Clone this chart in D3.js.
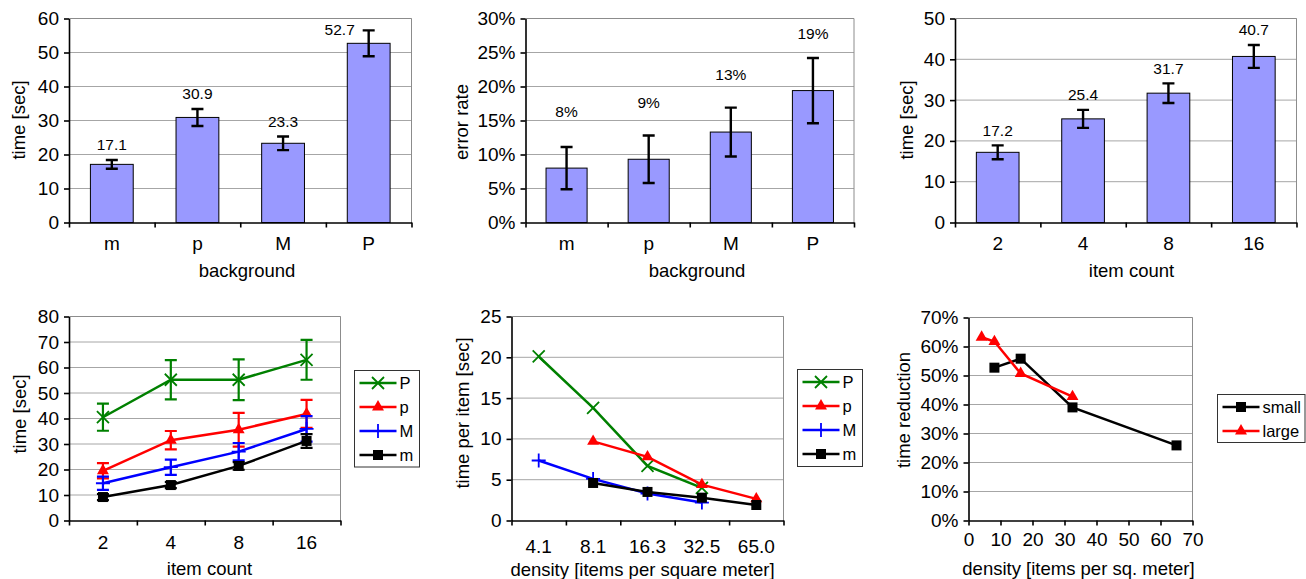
<!DOCTYPE html>
<html>
<head>
<meta charset="utf-8">
<script src="https://cdn.jsdelivr.net/npm/d3@7"></script>
<style>
body { margin: 0; background: #fff; }
</style>
</head>
<body>
<svg id="vis" width="1306" height="579"></svg>
<script>
// ---- data ----
var bgCats = ["m", "p", "M", "P"];
var bgTime = [17.1, 30.9, 23.3, 52.7];
var bgTimeErr = [1.3, 2.5, 2.0, 3.8];
var bgErrRate = [0.080, 0.093, 0.133, 0.194];
var bgErrRateErr = [0.031, 0.035, 0.036, 0.048];

var countCats = ["2", "4", "8", "16"];
var countTime = [17.2, 25.4, 31.7, 40.7];
var countTimeErr = [1.7, 2.2, 2.4, 2.8];

var seriesNames = ["P", "p", "M", "m"];
var countP = [40.5, 55.2, 55.2, 63.0];
var countPErr = [5.3, 7.7, 8.0, 7.8];
var countp = [19.5, 31.5, 35.6, 41.8];
var countpErr = [3.0, 3.6, 6.6, 5.5];
var countM = [14.6, 20.9, 27.0, 35.9];
var countMErr = [2.6, 3.0, 3.4, 5.0];
var countm = [9.2, 13.9, 21.4, 31.2];
var countmErr = [1.2, 1.2, 1.5, 2.7];

var densityCats = ["4.1", "8.1", "16.3", "32.5", "65.0"];
var perItemP = [20.1, 13.8, 6.7, 4.0, null];
var perItemp = [null, 9.7, 7.8, 4.4, 2.65];
var perItemM = [7.35, 5.1, 3.3, 2.2, null];
var perItemm = [null, 4.6, 3.5, 2.8, 1.9];

var densityVals = [4.1, 8.1, 16.3, 32.5, 65.0];
var sizeNames = ["small", "large"];
var reductionSmall = [null, 0.527, 0.558, 0.390, 0.259];
var reductionLarge = [0.632, 0.617, 0.507, 0.427, null];

// ---- styling ----
var FONT = "'Liberation Sans', Arial, sans-serif";
var GRID = "#a6a6a6", FRAME = "#8c8c8c", BAR = "#9999ff";
var TICK_FS = 19, TITLE_FS = 18.5;
var seriesStyle = {
    P: { color: "#008000", marker: "x" },
    p: { color: "#ff0000", marker: "tri" },
    M: { color: "#0000ff", marker: "plus" },
    m: { color: "#000000", marker: "square" },
    small: { color: "#000000", marker: "square" },
    large: { color: "#ff0000", marker: "tri" }
};

var svg = d3.select("#vis");

function styleAxis(ax) {
    ax.attr("font-family", FONT).attr("font-size", TICK_FS);
    ax.select(".domain").attr("stroke", "#000").attr("stroke-width", 1.6);
    ax.selectAll(".tick line").attr("stroke", "#000").attr("stroke-width", 1.6);
    ax.selectAll(".tick text").attr("fill", "#000");
}

function frame(g, b, y, ticks, fmt) {
    g.selectAll("line.grid").data(ticks.filter(function (t) { return t > 0; }))
        .join("line").attr("class", "grid")
        .attr("x1", b.l).attr("x2", b.r)
        .attr("y1", function (d) { return y(d); })
        .attr("y2", function (d) { return y(d); })
        .attr("stroke", GRID).attr("stroke-width", 1);
    g.append("path")
        .attr("d", "M" + b.l + "," + b.t + "H" + b.r + "V" + b.b)
        .attr("fill", "none").attr("stroke", FRAME).attr("stroke-width", 1);
    var ax = g.append("g")
        .attr("transform", "translate(" + b.l + ",0)")
        .call(d3.axisLeft(y).tickValues(ticks).tickFormat(fmt)
            .tickSize(5).tickPadding(5).tickSizeOuter(0));
    styleAxis(ax);
}

function catAxis(g, b, cats, pad) {
    var lin = d3.scaleLinear().domain([0, cats.length]).range([b.l, b.r]);
    var ax = g.append("g")
        .attr("transform", "translate(0," + b.b + ")")
        .call(d3.axisBottom(lin).tickValues(d3.range(cats.length + 1))
            .tickFormat("").tickSize(5).tickSizeOuter(0));
    styleAxis(ax);
    var band = d3.scaleBand().domain(cats).range([b.l, b.r]);
    var ax2 = g.append("g")
        .attr("transform", "translate(0," + b.b + ")")
        .call(d3.axisBottom(band).tickSize(0).tickPadding(pad));
    ax2.select(".domain").remove();
    styleAxis(ax2);
    return band;
}

function titles(g, b) {
    g.append("text")
        .attr("transform", "translate(" + b.ytx + "," + b.yty + ") rotate(-90)")
        .attr("text-anchor", "middle")
        .attr("font-family", FONT).attr("font-size", TITLE_FS)
        .text(b.yTitle);
    g.append("text")
        .attr("x", b.xtx).attr("y", b.xty)
        .attr("text-anchor", "middle")
        .attr("font-family", FONT).attr("font-size", TITLE_FS)
        .text(b.xTitle);
}

function errBar(g, x, y0, y1, color, w, cap) {
    g.append("path")
        .attr("d", "M" + x + "," + y0 + "V" + y1 +
            "M" + (x - cap) + "," + y0 + "H" + (x + cap) +
            "M" + (x - cap) + "," + y1 + "H" + (x + cap))
        .attr("fill", "none").attr("stroke", color).attr("stroke-width", w);
}

function marker(g, x, y, st) {
    var c = st.color;
    if (st.marker === "square") {
        g.append("rect").attr("x", x - 5).attr("y", y - 5)
            .attr("width", 10).attr("height", 10).attr("fill", c);
    } else if (st.marker === "tri") {
        g.append("path").attr("transform", "translate(" + x + "," + y + ")")
            .attr("d", d3.symbol(d3.symbolTriangle, 62)()).attr("fill", c);
    } else if (st.marker === "x") {
        g.append("path").attr("d", "M" + (x - 6) + "," + (y - 6) + "L" + (x + 6) + "," + (y + 6) +
            "M" + (x - 6) + "," + (y + 6) + "L" + (x + 6) + "," + (y - 6))
            .attr("stroke", c).attr("stroke-width", 1.8);
    } else {
        g.append("path").attr("d", "M" + (x - 7) + "," + y + "H" + (x + 7) +
            "M" + x + "," + (y - 7) + "V" + (y + 7))
            .attr("stroke", c).attr("stroke-width", 1.8);
    }
}

function legend(g, box, names) {
    g.append("rect").attr("x", box.x).attr("y", box.y)
        .attr("width", box.w).attr("height", box.h)
        .attr("fill", "#fff").attr("stroke", "#333").attr("stroke-width", 1);
    names.forEach(function (n, i) {
        var st = seriesStyle[n], ry = box.y + 12.5 + i * 24;
        g.append("line").attr("x1", box.x + 5).attr("x2", box.x + 42)
            .attr("y1", ry).attr("y2", ry)
            .attr("stroke", st.color).attr("stroke-width", 2.5);
        marker(g, box.x + 23.5, ry, st);
        g.append("text").attr("x", box.x + 45).attr("y", ry + 6)
            .attr("font-family", FONT).attr("font-size", 16.5).text(n);
    });
}

// ---- bar charts (top row) ----
function barChart(b, cats, vals, errs, yMax, step, fmt, labelFmt, labelMode) {
    var g = svg.append("g");
    var y = d3.scaleLinear().domain([0, yMax]).range([b.b, b.t]);
    var ticks = d3.range(0, yMax + step / 2, step);
    frame(g, b, y, ticks, fmt);
    var x = d3.scaleBand().domain(cats).range([b.l, b.r]);
    var bw = x.bandwidth() * 0.5;
    g.selectAll("rect.bar").data(vals).join("rect").attr("class", "bar")
        .attr("x", function (d, i) { return x(cats[i]) + (x.bandwidth() - bw) / 2; })
        .attr("y", function (d) { return y(d); })
        .attr("width", bw)
        .attr("height", function (d) { return b.b - y(d); })
        .attr("fill", BAR).attr("stroke", "#000").attr("stroke-width", 1);
    vals.forEach(function (v, i) {
        var cx = x(cats[i]) + x.bandwidth() / 2;
        errBar(g, cx, y(v - errs[i]), y(v + errs[i]), "#000", 2.4, 6);
        var ly, lx = cx;
        if (labelMode === "bar") {
            ly = y(v) - 57;
        } else {
            ly = y(v + errs[i]) - 15;
            if (ly < b.t + 8) { ly = y(v) - 14; lx = cx - 29; }
        }
        g.append("text").attr("x", lx).attr("y", ly).attr("dy", "0.35em")
            .attr("text-anchor", "middle")
            .attr("font-family", FONT).attr("font-size", 15.5)
            .text(labelFmt(v));
    });
    catAxis(g, b, cats, b.pad);
    titles(g, b);
}

barChart({ l: 69, r: 411.5, t: 18.5, b: 222.5, pad: 14, ytx: 25, yty: 120, yTitle: "time [sec]",
        xtx: 247, xty: 276.5, xTitle: "background" },
    bgCats, bgTime, bgTimeErr, 60, 10, d3.format("d"), d3.format(".1f"), "err");

barChart({ l: 525.5, r: 854, t: 18.5, b: 222.5, pad: 14, ytx: 468, yty: 122, yTitle: "error rate",
        xtx: 697, xty: 276.5, xTitle: "background" },
    bgCats, bgErrRate, bgErrRateErr, 0.30, 0.05, d3.format(".0%"), d3.format(".0%"), "bar");

barChart({ l: 955, r: 1296.5, t: 18.5, b: 222.5, pad: 14, ytx: 913, yty: 120, yTitle: "time [sec]",
        xtx: 1131.5, xty: 276.5, xTitle: "item count" },
    countCats, countTime, countTimeErr, 50, 10, d3.format("d"), d3.format(".1f"), "err");

// ---- line charts over categories (bottom row) ----
function catLineChart(b, cats, series, errs, yMax, step, box) {
    var g = svg.append("g");
    var y = d3.scaleLinear().domain([0, yMax]).range([b.b, b.t]);
    frame(g, b, y, d3.range(0, yMax + step / 2, step), d3.format("d"));
    var x = catAxis(g, b, cats, b.pad);
    var cx = function (i) { return x(cats[i]) + x.bandwidth() / 2; };
    seriesNames.forEach(function (n, k) {
        var vals = series[k], st = seriesStyle[n];
        var line = d3.line()
            .defined(function (d) { return d != null; })
            .x(function (d, i) { return cx(i); })
            .y(function (d) { return y(d); });
        g.append("path").attr("d", line(vals))
            .attr("fill", "none").attr("stroke", st.color).attr("stroke-width", 2.5);
        vals.forEach(function (v, i) {
            if (v == null) return;
            if (errs) errBar(g, cx(i), y(v - errs[k][i]), y(v + errs[k][i]), st.color, 2.2, 6);
            marker(g, cx(i), y(v), st);
        });
    });
    legend(g, box, seriesNames);
    titles(g, b);
}

catLineChart({ l: 69, r: 340.5, t: 316.5, b: 520.5, pad: 15, ytx: 26, yty: 414, yTitle: "time [sec]",
        xtx: 209.5, xty: 574.5, xTitle: "item count" },
    countCats, [countP, countp, countM, countm], [countPErr, countpErr, countMErr, countmErr],
    80, 10, { x: 354.5, y: 370.5, w: 65, h: 96.5 });

catLineChart({ l: 511.5, r: 783.5, t: 316.5, b: 520.5, pad: 19.5, ytx: 469, yty: 413, yTitle: "time per item [sec]",
        xtx: 642.5, xty: 575.5, xTitle: "density [items per square meter]" },
    densityCats, [perItemP, perItemp, perItemM, perItemm], null,
    25, 5, { x: 797.5, y: 369.5, w: 65, h: 97 });

// ---- time reduction vs density (linear x) ----
(function () {
    var b = { l: 968.5, r: 1192.5, t: 317.5, b: 520.5, ytx: 910, yty: 410, yTitle: "time reduction",
        xtx: 1078.5, xty: 574.5, xTitle: "density [items per sq. meter]" };
    var g = svg.append("g");
    var y = d3.scaleLinear().domain([0, 0.7]).range([b.b, b.t]);
    frame(g, b, y, d3.range(0, 0.71, 0.1), d3.format(".0%"));
    var x = d3.scaleLinear().domain([0, 70]).range([b.l, b.r]);
    var ax = g.append("g").attr("transform", "translate(0," + b.b + ")")
        .call(d3.axisBottom(x).tickValues(d3.range(0, 71, 10)).tickSize(5).tickPadding(7.5).tickSizeOuter(0));
    styleAxis(ax);
    [reductionSmall, reductionLarge].forEach(function (vals, k) {
        var st = seriesStyle[sizeNames[k]];
        var line = d3.line()
            .defined(function (d) { return d != null; })
            .x(function (d, i) { return x(densityVals[i]); })
            .y(function (d) { return y(d); });
        g.append("path").attr("d", line(vals))
            .attr("fill", "none").attr("stroke", st.color).attr("stroke-width", 2.5);
        vals.forEach(function (v, i) {
            if (v != null) marker(g, x(densityVals[i]), y(v), st);
        });
    });
    legend(g, { x: 1217.5, y: 394.5, w: 87.5, h: 48 }, sizeNames);
    titles(g, b);
})();
</script>
</body>
</html>
